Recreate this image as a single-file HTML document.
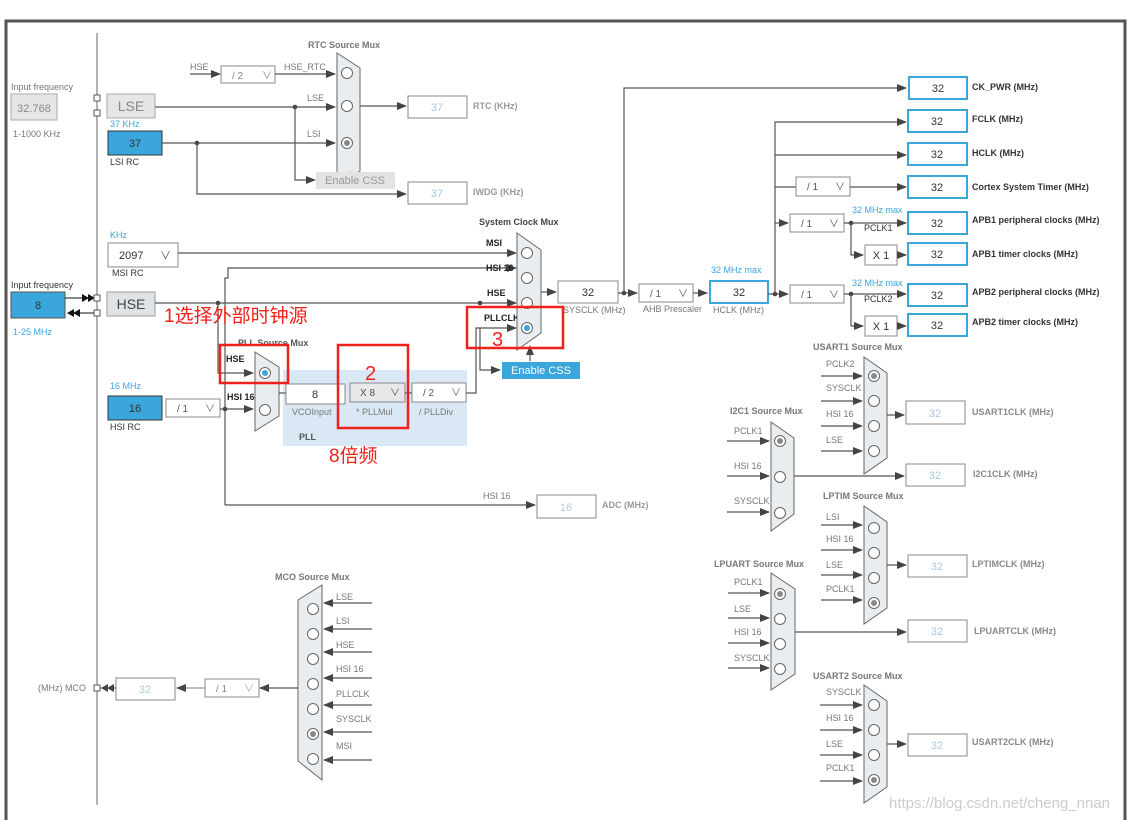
<!DOCTYPE html>
<html><head><meta charset="utf-8"><style>
html,body{margin:0;padding:0;background:#fff;}
svg{display:block;}
text{font-family:"Liberation Sans","Noto Sans CJK SC",sans-serif;}
.l{font-size:9px;fill:#777;}
.lb{font-size:9px;fill:#333;}
.t{font-size:9px;fill:#777;font-weight:bold;}
.o{font-size:9px;fill:#555;font-weight:bold;}
.bl{font-size:9px;fill:#3aa6dc;}
.v{font-size:11px;fill:#333;text-anchor:middle;}
.vl{font-size:11px;fill:#a9c9e4;text-anchor:middle;}
.w{stroke:#555;stroke-width:1.2;fill:none;}
.box{fill:#fff;stroke:#888;stroke-width:1;}
.bb{fill:#fff;stroke:#3aa6dc;stroke-width:2;}
.mux{fill:#e9edf0;stroke:#666;stroke-width:1;}
.c{fill:#fff;stroke:#666;stroke-width:1;}
.red{fill:none;stroke:#f0201a;stroke-width:2.5;}
.rt{fill:#f0201a;font-family:"Liberation Sans","Noto Sans CJK SC",sans-serif;}
</style></head><body>
<svg width="1130" height="820" viewBox="0 0 1130 820" xmlns="http://www.w3.org/2000/svg">
<defs>
<marker id="a" markerWidth="10" markerHeight="8" refX="9" refY="4" orient="auto" markerUnits="userSpaceOnUse"><path d="M0,0L10,4L0,8z" fill="#444"/></marker>
</defs>
<!-- frame -->
<path d="M6,820V21H1125V820" fill="none" stroke="#555" stroke-width="3"/>
<line x1="97" y1="33" x2="97" y2="805" stroke="#666" stroke-width="1"/>

<!-- LSE / LSI -->
<text x="11" y="90" class="l">Input frequency</text>
<rect x="11" y="94" width="46" height="26" fill="#e6e6e6" stroke="#aaa"/>
<text x="34" y="112" class="v" style="fill:#888">32.768</text>
<text x="13" y="137" class="l">1-1000 KHz</text>
<rect x="94" y="95" width="6" height="6" fill="#fff" stroke="#555"/>
<rect x="94" y="110" width="6" height="6" fill="#fff" stroke="#555"/>
<rect x="107" y="94" width="48" height="24" fill="#e6e6e6" stroke="#aaa"/>
<text x="131" y="111" style="font-size:14px;fill:#888;text-anchor:middle">LSE</text>
<text x="110" y="127" class="bl">37 KHz</text>
<rect x="108" y="131" width="54" height="24" fill="#3aa6dc" stroke="#333"/>
<text x="135" y="147" class="v">37</text>
<text x="110" y="165" class="lb">LSI RC</text>

<path class="w" d="M155,107H335" marker-end="url(#a)"/>
<path class="w" d="M162,143H335" marker-end="url(#a)"/>
<circle cx="295" cy="107" r="2.3" fill="#444"/>
<circle cx="197" cy="143" r="2.3" fill="#444"/>
<path class="w" d="M295,107V180H315" marker-end="url(#a)"/>
<path class="w" d="M197,143V194H406" marker-end="url(#a)"/>
<text x="190" y="70" class="l">HSE</text>
<path class="w" d="M190,74H220" marker-end="url(#a)"/>
<rect x="221" y="66" width="54" height="17" class="box"/>
<text x="232" y="79" style="font-size:10px;fill:#888">/ 2</text><text x="262" y="79" style="font-size:10px;fill:#888">∨</text>
<text x="284" y="70" class="l">HSE_RTC</text>
<path class="w" d="M275,74H335" marker-end="url(#a)"/>
<text x="307" y="101" class="l">LSE</text>
<text x="307" y="137" class="l">LSI</text>
<text x="308" y="48" class="t">RTC Source Mux</text>
<path class="mux" d="M337,53L360,68V171L337,188Z"/>
<circle class="c" cx="347" cy="73" r="5.5"/><circle class="c" cx="347" cy="106" r="5.5"/><circle class="c" cx="347" cy="143" r="5.5"/><circle cx="347" cy="143" r="3" fill="#888"/>
<path class="w" d="M360,106H406" marker-end="url(#a)"/>
<path class="w" d="M350,187V172" marker-end="url(#a)"/>
<rect x="316" y="172" width="79" height="17" fill="#e3e3e3"/>
<text x="355" y="184" style="font-size:11px;fill:#999;text-anchor:middle">Enable CSS</text>
<rect x="408" y="96" width="59" height="22" class="box"/><text x="437" y="111" class="vl">37</text>
<text x="473" y="109" class="o" style="fill:#999">RTC (KHz)</text>
<rect x="408" y="182" width="59" height="22" class="box"/><text x="437" y="197" class="vl">37</text>
<text x="473" y="195" class="o" style="fill:#999">IWDG (KHz)</text>

<!-- MSI / HSE / HSI -->
<text x="110" y="238" class="bl">KHz</text>
<rect x="108" y="243" width="70" height="24" class="box"/>
<text x="119" y="259" style="font-size:11px;fill:#333">2097</text><text x="160" y="259" style="font-size:11px;fill:#555">∨</text>
<text x="112" y="276" class="lb">MSI RC</text>
<path class="w" d="M178,253H516" marker-end="url(#a)"/>
<text x="486" y="246" class="o" style="fill:#222">MSI</text>
<path class="w" d="M225,505V278H228V268H516" marker-end="url(#a)"/>
<text x="486" y="271" class="o" style="fill:#222">HSI 16</text>
<text x="11" y="288" class="lb">Input frequency</text>
<rect x="11" y="292" width="54" height="26" fill="#3aa6dc" stroke="#555"/>
<text x="38" y="309" class="v">8</text>
<text x="13" y="335" class="bl">1-25 MHz</text>
<path d="M65,298H85" stroke="#111"/><path d="M82,294L89,298L82,302z M88,294L95,298L88,302z" fill="#111"/>
<path d="M70,313H95" stroke="#111"/><path d="M73,313L80,309V317z M67,313L74,309V317z" fill="#111"/>
<rect x="94" y="295" width="6" height="6" fill="#fff" stroke="#555"/>
<rect x="94" y="310" width="6" height="6" fill="#fff" stroke="#555"/>
<rect x="107" y="292" width="48" height="24" fill="#e0e3e6" stroke="#999"/>
<text x="131" y="309" style="font-size:14px;fill:#444;text-anchor:middle">HSE</text>
<path class="w" d="M155,303H516" marker-end="url(#a)"/>
<text x="487" y="296" class="o" style="fill:#222">HSE</text>
<circle cx="480" cy="303" r="2.3" fill="#444"/>
<circle cx="218" cy="303" r="2.3" fill="#444"/>
<path class="w" d="M218,303V373H253" marker-end="url(#a)"/>

<text x="110" y="389" class="bl">16 MHz</text>
<rect x="108" y="396" width="54" height="24" fill="#3aa6dc" stroke="#333"/>
<text x="135" y="412" class="v">16</text>
<text x="110" y="430" class="lb">HSI RC</text>
<rect x="166" y="399" width="54" height="18" class="box"/>
<text x="177" y="412" style="font-size:10px;fill:#555">/ 1</text><text x="205" y="412" style="font-size:10px;fill:#666">∨</text>
<path class="w" d="M220,409H253" marker-end="url(#a)"/>
<circle cx="225" cy="409" r="2.3" fill="#444"/>
<path class="w" d="M225,505H535" marker-end="url(#a)"/>
<text x="483" y="499" class="l">HSI 16</text>
<rect x="537" y="495" width="59" height="23" class="box"/><text x="566" y="511" class="vl">16</text>
<text x="602" y="508" class="o" style="fill:#999">ADC (MHz)</text>

<!-- PLL -->
<rect x="283" y="370" width="184" height="76" fill="#dae8f5"/>
<text x="238" y="346" class="o">PLL Source Mux</text>
<text x="226" y="362" class="o" style="fill:#222">HSE</text>
<text x="227" y="400" class="o" style="fill:#222">HSI 16</text>
<path class="mux" d="M255,352L279,367V416L255,431Z"/>
<circle class="c" cx="265" cy="373" r="5.5"/><circle cx="265" cy="373" r="3" fill="#3aa6dc"/>
<circle class="c" cx="265" cy="410" r="5.5"/>
<path class="w" d="M279,393H286"/>
<rect x="286" y="384" width="59" height="20" class="box"/><text x="315" y="398" class="v">8</text>
<text x="292" y="415" class="l">VCOInput</text>
<rect x="350" y="383" width="55" height="19" fill="#e6e8ea" stroke="#888"/>
<text x="360" y="396" style="font-size:10px;fill:#555">X 8</text><text x="390" y="396" style="font-size:10px;fill:#555">∨</text>
<text x="356" y="415" class="l">* PLLMul</text>
<path class="w" d="M405,393H412"/>
<rect x="412" y="383" width="54" height="19" class="box"/>
<text x="423" y="396" style="font-size:10px;fill:#555">/ 2</text><text x="451" y="396" style="font-size:10px;fill:#555">∨</text>
<text x="419" y="415" class="l">/ PLLDiv</text>
<text x="299" y="440" class="o">PLL</text>
<path class="w" d="M466,393H476V328H516" marker-end="url(#a)"/>
<path class="w" d="M480,328V370H500" marker-end="url(#a)"/>
<text x="484" y="321" class="o" style="fill:#222">PLLCLK</text>
<rect x="502" y="362" width="78" height="17" fill="#3aa6dc"/>
<text x="541" y="374" style="font-size:11px;fill:#fff;text-anchor:middle">Enable CSS</text>

<!-- System clock mux -->
<text x="479" y="225" class="t" style="fill:#444">System Clock Mux</text>
<path class="mux" d="M517,233L541,250V333L517,350Z"/>
<circle class="c" cx="527" cy="253" r="5.5"/><circle class="c" cx="527" cy="278" r="5.5"/><circle class="c" cx="527" cy="303" r="5.5"/><circle class="c" cx="527" cy="328" r="5.5"/><circle cx="527" cy="328" r="3" fill="#3aa6dc"/>
<path class="w" d="M530,361V346" marker-end="url(#a)"/>
<path class="w" d="M541,292H556" marker-end="url(#a)"/>
<rect x="558" y="281" width="60" height="22" class="box"/><text x="588" y="296" class="v">32</text>
<text x="563" y="313" class="l">SYSCLK (MHz)</text>

<!-- AHB etc -->
<path class="w" d="M618,293H637" marker-end="url(#a)"/>
<circle cx="624" cy="293" r="2.3" fill="#444"/>
<path class="w" d="M624,293V88H906" marker-end="url(#a)"/>
<rect x="639" y="284" width="54" height="18" class="box"/>
<text x="650" y="297" style="font-size:10px;fill:#555">/ 1</text><text x="678" y="297" style="font-size:10px;fill:#555">∨</text>
<text x="643" y="312" class="l">AHB Prescaler</text>
<path class="w" d="M693,293H707" marker-end="url(#a)"/>
<text x="711" y="273" class="bl">32 MHz max</text>
<rect x="710" y="281" width="58" height="22" class="bb"/><text x="739" y="296" class="v">32</text>
<text x="713" y="313" class="l">HCLK (MHz)</text>
<path class="w" d="M768,294H788" marker-end="url(#a)"/>
<circle cx="775" cy="294" r="2.3" fill="#444"/>
<path class="w" d="M775,294V122H906" marker-end="url(#a)"/>
<path class="w" d="M775,155H906" marker-end="url(#a)"/>
<path class="w" d="M775,187H796"/>
<rect x="796" y="177" width="54" height="19" class="box"/>
<text x="807" y="190" style="font-size:10px;fill:#555">/ 1</text><text x="835" y="190" style="font-size:10px;fill:#555">∨</text>
<path class="w" d="M850,187H906" marker-end="url(#a)"/>
<path class="w" d="M775,223H788" marker-end="url(#a)"/>
<rect x="790" y="214" width="54" height="18" class="box"/>
<text x="801" y="227" style="font-size:10px;fill:#555">/ 1</text><text x="829" y="227" style="font-size:10px;fill:#555">∨</text>
<path class="w" d="M844,223H906" marker-end="url(#a)"/>
<circle cx="851" cy="223" r="2.3" fill="#444"/>
<path class="w" d="M851,223V255H863" marker-end="url(#a)"/>
<text x="852" y="213" class="bl">32 MHz max</text>
<text x="864" y="231" class="lb">PCLK1</text>
<rect x="865" y="245" width="32" height="20" class="box"/><text x="881" y="259" class="v">X 1</text>
<path class="w" d="M897,255H906" marker-end="url(#a)"/>
<rect x="790" y="285" width="54" height="18" class="box"/>
<text x="801" y="298" style="font-size:10px;fill:#555">/ 1</text><text x="829" y="298" style="font-size:10px;fill:#555">∨</text>
<path class="w" d="M844,294H906" marker-end="url(#a)"/>
<circle cx="851" cy="294" r="2.3" fill="#444"/>
<path class="w" d="M851,294V326H863" marker-end="url(#a)"/>
<text x="852" y="286" class="bl">32 MHz max</text>
<text x="864" y="302" class="lb">PCLK2</text>
<rect x="865" y="316" width="32" height="20" class="box"/><text x="881" y="330" class="v">X 1</text>
<path class="w" d="M897,326H906" marker-end="url(#a)"/>

<g>
<rect x="909" y="77" width="58" height="22" class="bb"/><text x="938" y="92" class="v">32</text>
<rect x="908" y="110" width="59" height="22" class="bb"/><text x="937" y="125" class="v">32</text>
<rect x="908" y="143" width="59" height="22" class="bb"/><text x="937" y="158" class="v">32</text>
<rect x="908" y="176" width="59" height="22" class="bb"/><text x="937" y="191" class="v">32</text>
<rect x="908" y="212" width="59" height="22" class="bb"/><text x="937" y="227" class="v">32</text>
<rect x="908" y="243" width="59" height="22" class="bb"/><text x="937" y="258" class="v">32</text>
<rect x="908" y="284" width="59" height="22" class="bb"/><text x="937" y="299" class="v">32</text>
<rect x="908" y="314" width="59" height="22" class="bb"/><text x="937" y="329" class="v">32</text>
</g>
<text x="972" y="90" class="o" style="fill:#333">CK_PWR (MHz)</text>
<text x="972" y="122" class="o" style="fill:#333">FCLK (MHz)</text>
<text x="972" y="156" class="o" style="fill:#333">HCLK (MHz)</text>
<text x="972" y="190" class="o" style="fill:#333">Cortex System Timer (MHz)</text>
<text x="972" y="223" class="o" style="fill:#333">APB1 peripheral clocks (MHz)</text>
<text x="972" y="257" class="o" style="fill:#333">APB1 timer clocks (MHz)</text>
<text x="972" y="295" class="o" style="fill:#333">APB2 peripheral clocks (MHz)</text>
<text x="972" y="325" class="o" style="fill:#333">APB2 timer clocks (MHz)</text>

<!-- USART1 -->
<text x="813" y="350" class="t">USART1 Source Mux</text>
<path class="mux" d="M864,357L887,373V458L864,474Z"/>
<circle class="c" cx="874" cy="376" r="5.5"/><circle cx="874" cy="376" r="3" fill="#888"/>
<circle class="c" cx="874" cy="401" r="5.5"/><circle class="c" cx="874" cy="426" r="5.5"/><circle class="c" cx="874" cy="451" r="5.5"/>
<path class="w" d="M821,376H862" marker-end="url(#a)"/><path class="w" d="M821,401H862" marker-end="url(#a)"/><path class="w" d="M821,426H862" marker-end="url(#a)"/><path class="w" d="M821,451H862" marker-end="url(#a)"/>
<text x="826" y="367" class="l">PCLK2</text><text x="826" y="391" class="l">SYSCLK</text><text x="826" y="417" class="l">HSI 16</text><text x="826" y="443" class="l">LSE</text>
<path class="w" d="M887,415H904" marker-end="url(#a)"/>
<rect x="906" y="401" width="59" height="23" class="box"/><text x="935" y="417" class="vl">32</text>
<text x="972" y="415" class="o" style="fill:#888">USART1CLK (MHz)</text>

<!-- I2C1 -->
<text x="730" y="414" class="t">I2C1 Source Mux</text>
<path class="mux" d="M771,422L794,438V514L771,531Z"/>
<circle class="c" cx="780" cy="441" r="5.5"/><circle cx="780" cy="441" r="3" fill="#888"/>
<circle class="c" cx="780" cy="477" r="5.5"/><circle class="c" cx="780" cy="513" r="5.5"/>
<path class="w" d="M727,441H769" marker-end="url(#a)"/><path class="w" d="M727,476H769" marker-end="url(#a)"/><path class="w" d="M727,512H769" marker-end="url(#a)"/>
<text x="734" y="434" class="l">PCLK1</text><text x="734" y="469" class="l">HSI 16</text><text x="734" y="504" class="l">SYSCLK</text>
<path class="w" d="M794,476H904" marker-end="url(#a)"/>
<rect x="906" y="464" width="59" height="22" class="box"/><text x="935" y="479" class="vl">32</text>
<text x="973" y="477" class="o" style="fill:#888">I2C1CLK (MHz)</text>

<!-- LPTIM -->
<text x="823" y="499" class="t">LPTIM Source Mux</text>
<path class="mux" d="M864,506L887,522V608L864,624Z"/>
<circle class="c" cx="874" cy="528" r="5.5"/><circle class="c" cx="874" cy="553" r="5.5"/><circle class="c" cx="874" cy="578" r="5.5"/><circle class="c" cx="874" cy="603" r="5.5"/><circle cx="874" cy="603" r="3" fill="#888"/>
<path class="w" d="M821,525H862" marker-end="url(#a)"/><path class="w" d="M821,550H862" marker-end="url(#a)"/><path class="w" d="M821,575H862" marker-end="url(#a)"/><path class="w" d="M821,600H862" marker-end="url(#a)"/>
<text x="826" y="520" class="l">LSI</text><text x="826" y="542" class="l">HSI 16</text><text x="826" y="568" class="l">LSE</text><text x="826" y="592" class="l">PCLK1</text>
<path class="w" d="M887,565H906" marker-end="url(#a)"/>
<rect x="908" y="555" width="59" height="22" class="box"/><text x="937" y="570" class="vl">32</text>
<text x="972" y="567" class="o" style="fill:#888">LPTIMCLK (MHz)</text>

<!-- LPUART -->
<text x="714" y="567" class="t">LPUART Source Mux</text>
<path class="mux" d="M771,573L795,589V674L771,690Z"/>
<circle class="c" cx="780" cy="594" r="5.5"/><circle cx="780" cy="594" r="3" fill="#888"/>
<circle class="c" cx="780" cy="619" r="5.5"/><circle class="c" cx="780" cy="644" r="5.5"/><circle class="c" cx="780" cy="669" r="5.5"/>
<path class="w" d="M728,593H769" marker-end="url(#a)"/><path class="w" d="M728,618H769" marker-end="url(#a)"/><path class="w" d="M728,643H769" marker-end="url(#a)"/><path class="w" d="M728,668H769" marker-end="url(#a)"/>
<text x="734" y="585" class="l">PCLK1</text><text x="734" y="612" class="l">LSE</text><text x="734" y="635" class="l">HSI 16</text><text x="734" y="661" class="l">SYSCLK</text>
<path class="w" d="M795,632H906" marker-end="url(#a)"/>
<rect x="908" y="620" width="59" height="22" class="box"/><text x="937" y="635" class="vl">32</text>
<text x="974" y="634" class="o" style="fill:#888">LPUARTCLK (MHz)</text>

<!-- USART2 -->
<text x="813" y="679" class="t">USART2 Source Mux</text>
<path class="mux" d="M864,685L887,701V787L864,803Z"/>
<circle class="c" cx="874" cy="705" r="5.5"/><circle class="c" cx="874" cy="730" r="5.5"/><circle class="c" cx="874" cy="755" r="5.5"/><circle class="c" cx="874" cy="780" r="5.5"/><circle cx="874" cy="780" r="3" fill="#888"/>
<path class="w" d="M820,705H862" marker-end="url(#a)"/><path class="w" d="M820,730H862" marker-end="url(#a)"/><path class="w" d="M820,755H862" marker-end="url(#a)"/><path class="w" d="M820,781H862" marker-end="url(#a)"/>
<text x="826" y="695" class="l">SYSCLK</text><text x="826" y="721" class="l">HSI 16</text><text x="826" y="747" class="l">LSE</text><text x="826" y="771" class="l">PCLK1</text>
<path class="w" d="M887,744H906" marker-end="url(#a)"/>
<rect x="908" y="734" width="59" height="22" class="box"/><text x="937" y="749" class="vl">32</text>
<text x="972" y="745" class="o" style="fill:#888">USART2CLK (MHz)</text>

<!-- MCO -->
<text x="275" y="580" class="t">MCO Source Mux</text>
<path class="mux" d="M322,585V780L298,761V600Z"/>
<circle class="c" cx="313" cy="609" r="5.5"/><circle class="c" cx="313" cy="634" r="5.5"/><circle class="c" cx="313" cy="659" r="5.5"/><circle class="c" cx="313" cy="684" r="5.5"/><circle class="c" cx="313" cy="709" r="5.5"/><circle class="c" cx="313" cy="734" r="5.5"/><circle cx="313" cy="734" r="3" fill="#888"/><circle class="c" cx="313" cy="759" r="5.5"/>
<path class="w" d="M372,603H324" marker-end="url(#a)"/><path class="w" d="M372,629H324" marker-end="url(#a)"/><path class="w" d="M372,652H324" marker-end="url(#a)"/><path class="w" d="M372,678H324" marker-end="url(#a)"/><path class="w" d="M372,705H324" marker-end="url(#a)"/><path class="w" d="M372,732H324" marker-end="url(#a)"/><path class="w" d="M372,760H324" marker-end="url(#a)"/>
<text x="336" y="600" class="l">LSE</text><text x="336" y="624" class="l">LSI</text><text x="336" y="648" class="l">HSE</text><text x="336" y="672" class="l">HSI 16</text><text x="336" y="697" class="l">PLLCLK</text><text x="336" y="722" class="l">SYSCLK</text><text x="336" y="749" class="l">MSI</text>
<path class="w" d="M298,688H260" marker-end="url(#a)"/>
<rect x="205" y="679" width="54" height="18" class="box"/>
<text x="216" y="692" style="font-size:10px;fill:#888">/ 1</text><text x="244" y="692" style="font-size:10px;fill:#aaa">∨</text>
<path class="w" d="M205,688H177" marker-end="url(#a)" style="stroke:#999"/>
<rect x="116" y="678" width="59" height="22" class="box"/><text x="145" y="693" class="vl">32</text>
<path d="M116,688H100" stroke="#555"/><path d="M101,688L108,684V692z M107,688L114,684V692z" fill="#444"/>
<rect x="94" y="685" width="6" height="6" fill="#fff" stroke="#555"/>
<text x="38" y="691" class="l">(MHz) MCO</text>

<!-- annotations -->
<rect x="220" y="345" width="68" height="38" class="red"/>
<rect x="338" y="345" width="70" height="83" class="red"/>
<rect x="467" y="307" width="96" height="41" class="red"/>
<text x="164" y="322" class="rt" style="font-size:19px">1选择外部时钟源</text>
<text x="365" y="380" class="rt" style="font-size:20px">2</text>
<text x="492" y="346" class="rt" style="font-size:20px">3</text>
<text x="329" y="462" class="rt" style="font-size:19px">8倍频</text>

<text x="889" y="808" style="font-size:15px;fill:#ccc">https://blog.csdn.net/cheng_nnan</text>
</svg>
</body></html>
